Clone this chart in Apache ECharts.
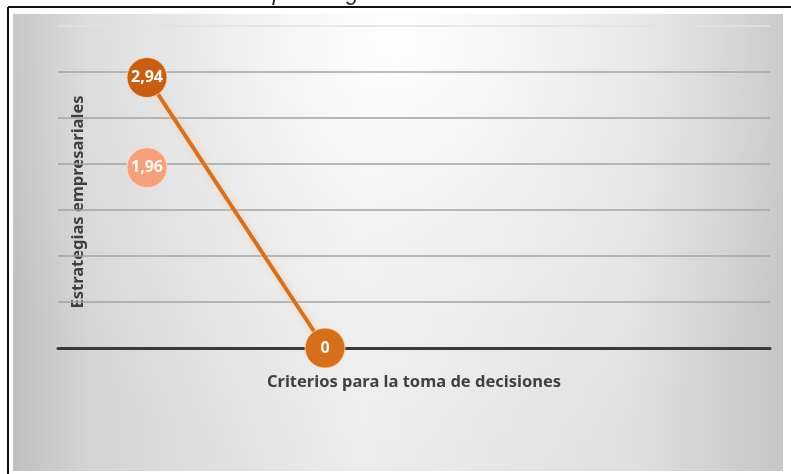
<!DOCTYPE html>
<html>
<head>
<meta charset="utf-8">
<script src="https://cdn.jsdelivr.net/npm/echarts@6/dist/echarts.min.js"></script>
<style>
  html, body { margin: 0; padding: 0; background: #ffffff; }
  #chart { width: 791px; height: 474px; }
</style>
</head>
<body>
<div id="chart"></div>
<script>
// Category slots along the horizontal axis
const categories = ['A', 'B', 'C', 'D'];
// Main series: joined by a line
const mainValues = [2.94, 0, null, null];
// Second series: single marker
const secondValues = [1.96, null, null, null];
// Value axis settings
const yMin = 0;
const yMax = 3.5;
const yStep = 0.5;

const titleText = 'Unidad para la gerencia de la innovación';
const xName = 'Criterios para la toma de decisiones';
const yName = 'Estrategias empresariales';

const comma = v => String(v).replace('.', ',');

const chart = echarts.init(document.getElementById('chart'), null, { renderer: 'canvas' });

const textFont = '"Noto Sans", "Open Sans", sans-serif';

// grid line colours, bottom to top; the topmost one fades into the light panel
const gridColors = ['#a3a3a3', '#a3a3a3', '#a3a3a3', '#a3a3a3', '#a3a3a3', '#a3a3a3', '#a3a3a3', '#e2e2e2'];

chart.setOption({
  animation: false,
  backgroundColor: '#ffffff',
  grid: { left: 58, right: 21, top: 26, bottom: 126 },
  graphic: [
    // shaded panel behind the plot
    {
      type: 'rect', z: -10, silent: true,
      shape: { x: 13, y: 14, width: 770, height: 457 },
      style: {
        fill: {
          type: 'linear', x: 0, y: 0, x2: 1, y2: 0,
          colorStops: [
            { offset: 0, color: '#c0c0c0' },
            { offset: 0.1, color: '#d4d4d4' },
            { offset: 0.45, color: '#ececec' },
            { offset: 0.8, color: '#e0e0e0' },
            { offset: 1, color: '#c6c6c6' }
          ]
        }
      }
    },
    {
      type: 'rect', z: -9, silent: true,
      shape: { x: 13, y: 14, width: 770, height: 457 },
      style: {
        fill: {
          type: 'radial', x: 0.5, y: 0.05, r: 1.0,
          colorStops: [
            { offset: 0, color: 'rgba(255,255,255,0.95)' },
            { offset: 0.45, color: 'rgba(255,255,255,0.35)' },
            { offset: 1, color: 'rgba(255,255,255,0)' }
          ]
        }
      }
    },
    // frame lines
    {
      type: 'line', z: -5, silent: true,
      shape: { x1: 8, y1: 7, x2: 791, y2: 7 },
      style: { stroke: '#111111', lineWidth: 2 }
    },
    {
      type: 'line', z: -5, silent: true,
      shape: { x1: 8, y1: 7, x2: 8, y2: 474 },
      style: { stroke: '#111111', lineWidth: 2 }
    },
    // caption above the frame (mostly outside the page)
    {
      type: 'text', silent: true,
      x: 197, y: 5,
      style: {
        text: titleText,
        fill: '#222222',
        font: 'italic 22px "Liberation Sans", Arial, sans-serif',
        textAlign: 'left',
        textVerticalAlign: 'bottom'
      }
    },
    // vertical axis title
    {
      type: 'text', silent: true,
      x: 78, y: 202,
      rotation: Math.PI / 2,
      style: {
        text: yName,
        fill: '#404040',
        font: 'bold 16.5px ' + textFont,
        textAlign: 'center',
        textVerticalAlign: 'middle'
      }
    }
  ],
  xAxis: {
    type: 'category',
    data: categories,
    boundaryGap: true,
    name: xName,
    nameLocation: 'middle',
    nameGap: 26,
    nameTextStyle: { color: '#404040', fontSize: 16.5, fontWeight: 'bold', fontFamily: textFont },
    axisLine: { show: true, lineStyle: { color: '#3a3a3a', width: 3 } },
    axisTick: { show: false },
    axisLabel: { show: false },
    splitLine: { show: false }
  },
  yAxis: {
    type: 'value',
    min: yMin,
    max: yMax,
    interval: yStep,
    axisLine: { show: false },
    axisTick: { show: false },
    axisLabel: { show: false },
    splitLine: { show: true, lineStyle: { color: gridColors, width: 1.5 } }
  },
  series: [
    {
      type: 'line',
      data: secondValues,
      symbol: 'circle',
      symbolSize: 40,
      z: 3,
      lineStyle: { width: 0 },
      itemStyle: { color: '#f4a07c', borderColor: 'rgba(255,225,205,0.8)', borderWidth: 1 },
      label: {
        show: true, position: 'inside',
        formatter: p => comma(p.value),
        color: '#fff5ee', fontSize: 16, fontWeight: 'bold', fontFamily: textFont
      }
    },
    {
      type: 'line',
      data: mainValues,
      symbol: 'circle',
      symbolSize: 40,
      z: 4,
      connectNulls: false,
      lineStyle: {
        color: '#d4701f', width: 4,
        shadowColor: 'rgba(255,190,140,0.7)', shadowBlur: 6
      },
      itemStyle: {
        color: p => (p.dataIndex === 0 ? '#c85d14' : '#d66f1c'),
        borderColor: 'rgba(255,220,190,0.8)', borderWidth: 1
      },
      label: {
        show: true, position: 'inside',
        formatter: p => comma(p.value),
        color: '#fff8f0', fontSize: 16, fontWeight: 'bold', fontFamily: textFont
      }
    }
  ]
});
</script>
</body>
</html>
